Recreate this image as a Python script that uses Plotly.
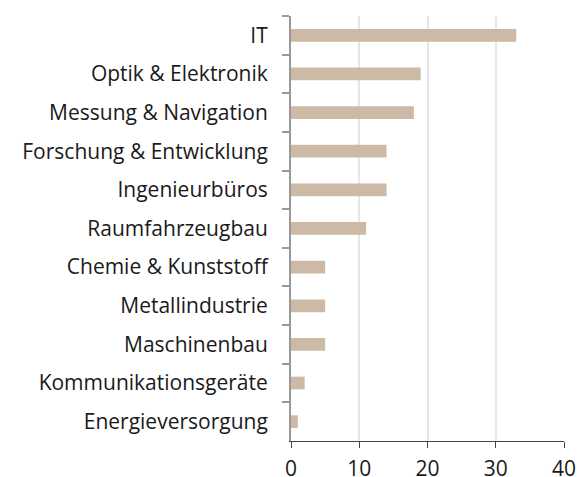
import plotly.graph_objects as go

categories = ["IT", "Optik & Elektronik", "Messung & Navigation", "Forschung & Entwicklung",
              "Ingenieurbüros", "Raumfahrzeugbau", "Chemie & Kunststoff", "Metallindustrie",
              "Maschinenbau", "Kommunikationsgeräte", "Energieversorgung"]
values = [33, 19, 18, 14, 14, 11, 5, 5, 5, 2, 1]
x_ticks = [0, 10, 20, 30, 40]

fig = go.Figure(go.Bar(
    y=categories, x=values, orientation="h",
    marker=dict(color="#cdbaa6", line=dict(width=0)),
    width=0.33,
))

fig.update_layout(
    width=583, height=477,
    margin=dict(l=291, r=19, t=16, b=36),
    paper_bgcolor="white", plot_bgcolor="white",
    font=dict(family="Open Sans", color="#1a1a1a"),
    showlegend=False,
    bargap=0.67,
)
fig.update_xaxes(
    range=[0, 40], tickvals=x_ticks, ticks="outside", ticklen=6, tickcolor="#444",
    showline=True, linecolor="#444", linewidth=1,
    showgrid=True, gridcolor="#e6e6e6", gridwidth=1.5,
    tickfont=dict(size=21, color="#1a1a1a"), zeroline=False, automargin=False,
    ticklabelstandoff=3,
)
fig.update_yaxes(
    autorange="reversed", ticks="outside", ticklen=7, tickcolor="#999", tickwidth=2,
    tickson="boundaries", showline=True, linecolor="#999", linewidth=2,
    tickfont=dict(size=21, color="#1a1a1a"), showgrid=False, ticklabelstandoff=17,
    automargin=False,
)

fig.write_html(
    "out.html",
    config={"displayModeBar": False},
    post_script="document.body.style.margin='0';document.body.style.overflow='hidden';",
)
